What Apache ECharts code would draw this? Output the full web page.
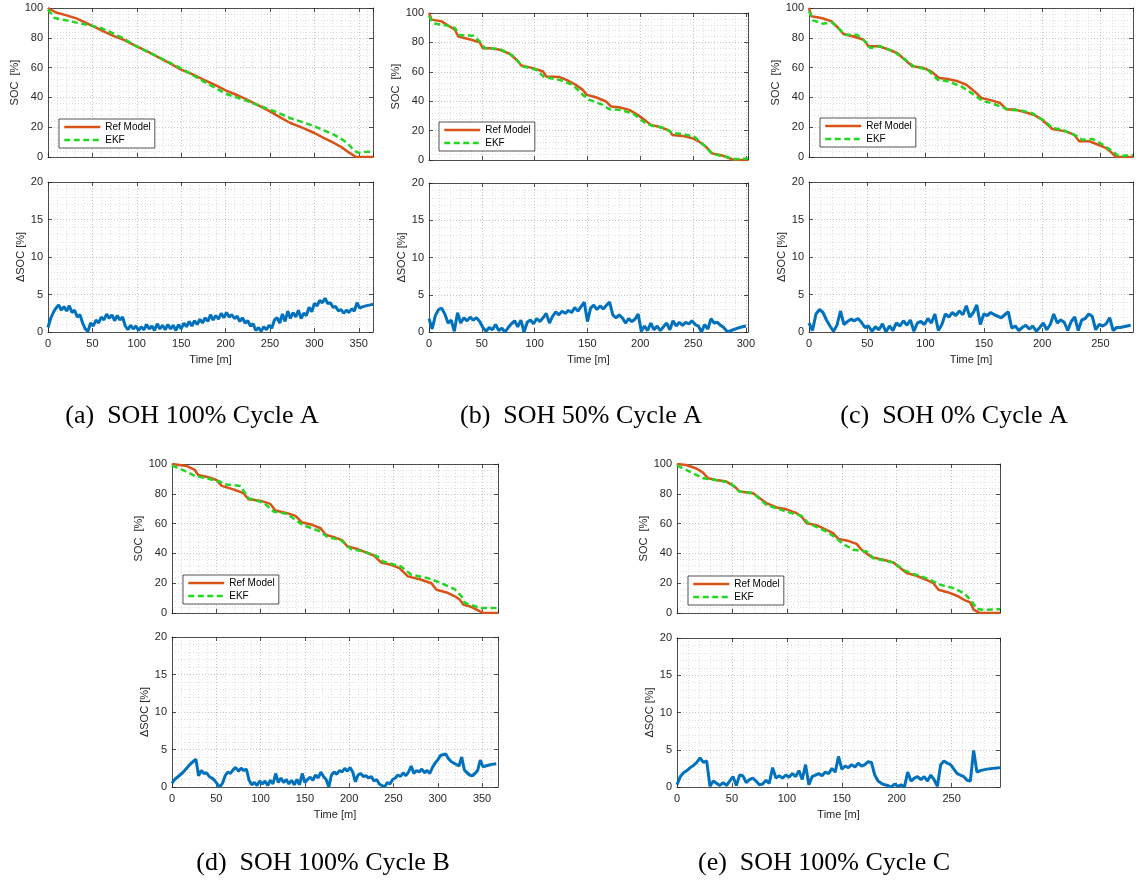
<!DOCTYPE html>
<html>
<head>
<meta charset="utf-8">
<script src="https://cdn.jsdelivr.net/npm/echarts@6/dist/echarts.min.js"></script>
<style>
  html, body { margin: 0; padding: 0; background: #ffffff; }
  #chart { width: 1136px; height: 888px; }
</style>
</head>
<body>
<div id="chart"></div>
<script>
// ---- Data -------------------------------------------------------------

// Length of each drive cycle [min]
const cycleEndA = 366;
const cycleEndB = 302;
const cycleEndC = 278;
const cycleEndD = 368;
const cycleEndE = 294;

// SOC of the reference model, [time (min), SOC (%)]
const refA = [[0,100],[9,97],[20,95.2],[32,93],[50,88],[62,84.5],[73,81.5],[86,78.5],[100,74.3],[113,70.5],[126,66.4],[138,62.6],[150,58.6],[163,55.4],[175,51.9],[188,48.4],[200,44.7],[212,41.8],[224,38.5],[237,34.6],[250,30.6],[262,26.4],[273,22.8],[287,19.6],[300,16.1],[311,12.6],[322,9.4],[330,6.8],[337,3.8],[347,0],[366,0]];
// SOC estimated by the EKF
const ekfA = [[0,99],[7.5,93.3],[20,91.8],[32,90.2],[50,88],[60,86.4],[70,84],[85,79.6],[100,74],[125,67],[150,59.5],[175,50.8],[200,42.5],[225,37.4],[250,31.8],[262,29],[273,26],[287,23.4],[300,20.6],[311,17.8],[322,15],[330,12.2],[337,9.4],[345,4.2],[350,2.8],[356,3.4],[366,3.5]];

const refB = [[0,100],[2.5,95.5],[12,94.3],[17,92],[24.5,88.6],[27.7,84],[29,83],[40,81.8],[48,80],[51,76],[57.5,76],[67,75],[76,72.3],[83,68.2],[87.4,64.3],[98.4,62.5],[108,60.2],[111,56.8],[123.6,56.4],[131.4,54.1],[139,51.1],[145.6,47.7],[149.4,44.3],[158,42.7],[167.6,39.8],[172.3,36.4],[180,35.9],[189.6,34.1],[197.5,30.7],[205,26.8],[210,23.9],[219.5,22.3],[227.4,20],[230.5,17],[240,16.4],[249.4,14.8],[255.7,12.5],[262,9.1],[268,4.5],[277.7,3],[287,0.5],[290,0],[302,0]];
const ekfB = [[0,98],[4,93],[17,91.4],[24.5,89.8],[29,85],[42,84.5],[48,80.7],[53,76],[67,75.5],[78,71.6],[89,63.6],[101.6,61.4],[109,56.4],[123.6,54.5],[136,51.1],[145.6,44.3],[152,40.9],[164.5,37.5],[170.8,34.5],[180,34.1],[192.8,31.8],[205,25],[211.6,23.2],[224,21.6],[230.5,18.2],[240,17.7],[251,15.9],[262,9.1],[268,4.1],[281,2.3],[290,0.5],[302,1]];

const refC = [[0,100],[2,94.4],[10.7,93.3],[19.4,91],[25,86.6],[29.5,82.6],[39.6,80.5],[46.8,78.7],[51,74.3],[60,74.3],[67,72.5],[75.7,69.8],[81.5,65.8],[88.7,60.9],[98.8,59.7],[104.6,57.5],[111.8,53],[119,52.3],[127.7,50.8],[135,48.5],[142,44],[148,39.6],[156.6,38],[164,36.2],[169.7,31.8],[177,31.8],[185.5,30],[192.8,28.4],[200,25],[208.7,18.8],[220.2,17.2],[227.5,15],[231.8,10.5],[240.5,10.5],[246,8.9],[255,6],[260,2.7],[263.6,0],[278,0]];
const ekfC = [[0,98],[3.5,91.7],[12,89.5],[19.4,90.4],[26.6,85.5],[31,82],[41,82],[46.8,78.7],[52.6,73.2],[61,74.3],[72.8,70.9],[84.4,64.2],[90,60.9],[101.7,58.6],[110.4,51.9],[119,50.8],[130.6,47.4],[139.3,43],[149.4,37.4],[156.6,36.2],[171,31.8],[182.7,31.1],[191.3,29.5],[201.4,24.6],[208.7,19.5],[217.3,18.3],[229,14.3],[234.7,11.6],[243.4,12.1],[252,8.3],[260.7,3.8],[266,0.4],[272,1],[278,1.2]];

const refD = [[0,100],[16.3,98.7],[25.8,96],[29.5,92.6],[39,91.5],[50.4,89.3],[56,85.3],[69.3,83],[80.7,80.4],[86.4,76.3],[99.6,75.4],[111,73.2],[116.7,68.8],[130,67],[139.4,65.2],[147,60.7],[158.3,59.2],[167.8,56.9],[173.5,52.5],[183,50.9],[192.4,48.7],[198,44.6],[209.5,42.9],[220.8,40.2],[228.4,38.4],[236,33.9],[247.3,32.4],[256.8,30.1],[266.3,24.6],[281.4,22.3],[292.8,20],[298.5,15.6],[310,13.8],[319.3,11.2],[325,8.9],[328.8,5.6],[338.3,4],[347.7,1.1],[351.5,0],[368,0]];
const ekfD = [[0,99],[16.3,94.9],[25.8,92],[39,90.4],[54,88.2],[58,86.4],[77,85.3],[86.4,77],[103.4,74.1],[114.8,68],[130,66.5],[147,59.2],[167.8,54.7],[175.4,50.9],[190.5,49.1],[201.9,42.9],[217,41.3],[232,37.9],[237.9,34.6],[258.7,31.2],[270,25.7],[289,23.4],[304,20],[319,16],[326.9,11.2],[330.7,6.7],[342,4.5],[349.6,3.3],[368,3.3]];

const refE = [[0,100],[8.5,99.3],[17.6,97],[23.7,94.2],[28.3,90.4],[35.9,89.3],[45,88.2],[52.6,84.8],[57,81.5],[69.3,80.4],[75.4,77],[81.5,73.7],[90.6,70.8],[99.7,69.6],[108.8,67],[113.4,64.7],[118,60.3],[127,58.9],[136,55.8],[142,53.6],[147,49.6],[154.4,48.7],[163.5,46.4],[168,42.4],[177.2,37.5],[187.8,35.7],[197,33.9],[201.5,31.2],[209,26.8],[218,25],[227,22.3],[233.4,20],[238,15.6],[247,13.8],[254.7,11.6],[262.3,8.5],[266.9,7.1],[270,2.2],[274.5,0.4],[277.5,0],[294,0]];
const ekfE = [[0,99],[14.6,93.8],[23.7,90.4],[39,88.8],[48,87.5],[57,81.5],[69.3,80.4],[81.5,72.5],[99.7,68],[113.4,65.2],[119.5,60.3],[136,54.7],[145.3,50.2],[150,46.9],[160.5,42.4],[172.6,41.3],[178.7,36.8],[197,33.9],[206,29],[215,26.3],[227,23.4],[239.5,19],[251.7,16.7],[260.8,13.4],[268.4,7.8],[273,2.7],[279,2.2],[294,2.5]];

// Absolute SOC error [%], sampled every 3 min from t = 0
const errStep = 3;
const errA = [
  0.6, 1.8, 2.6, 3.2, 3.6, 2.9, 3.4, 2.8, 3.5, 2.6,
  2.9, 2.0, 2.3, 1.2, 0.4, 0.1, 1.2, 0.8, 1.6, 1.2,
  2.0, 1.6, 2.4, 1.8, 2.3, 1.5, 2.2, 1.6, 2.0, 0.8,
  0.3, 0.9, 0.4, 0.8, 0.2, 0.7, 0.3, 1.0, 0.4, 0.8,
  0.2, 1.1, 0.4, 0.9, 0.3, 1.0, 0.4, 0.9, 0.2, 1.0,
  0.4, 1.2, 0.7, 1.4, 0.8, 1.5, 1.0, 1.7, 1.2, 1.9,
  1.4, 2.3, 1.6, 2.2, 1.7, 2.5, 1.9, 2.6, 2.0, 2.3,
  1.8, 2.1, 1.4, 1.9, 1.2, 1.5, 0.8, 1.1, 0.2, 0.6,
  0.1, 0.7, 0.3, 0.9, 0.5, 1.6, 1.9, 1.2, 2.4, 1.4,
  2.8, 1.8, 2.6, 2.0, 2.9, 1.8, 2.5, 2.2, 3.3, 2.7,
  3.8, 3.5, 4.2, 3.9, 4.5, 3.8, 3.9, 3.3, 3.4, 2.8,
  3.0, 2.5, 2.9, 2.6, 3.1, 2.8, 3.9, 3.2, 3.35, 3.45,
  3.55, 3.62, 3.7
];
const errB = [
  1.8, 0.4, 2.2, 3.0, 3.2, 2.4, 1.2, 1.6, 0.1, 2.6,
  1.2, 1.9, 1.5, 2.0, 1.6, 1.9, 1.4, 0.6, 0.1, 0.6,
  0.3, 1.0, 0.2, 0.5, 0.0, 0.6, 1.1, 1.5, 0.7, 1.6,
  0.0, 1.3, 1.6, 1.1, 1.8, 1.4, 1.9, 2.5, 1.2, 2.1,
  2.7, 2.3, 2.8, 2.5, 2.9, 2.6, 3.3, 2.8, 3.4, 4.0,
  1.4, 3.2, 3.6, 3.0, 3.5, 3.1, 3.6, 4.0, 2.3, 1.9,
  2.3, 1.9, 1.2, 1.8, 1.4, 1.7, 2.4, 0.1, 0.8, 0.2,
  1.2, 0.3, 0.8, 0.2, 0.7, 1.2, 0.3, 1.5, 0.8, 1.3,
  0.9, 1.3, 1.1, 1.5, 1.0, 0.8, 0.0, 1.0, 0.4, 1.8,
  1.2, 1.3, 0.9, 0.6, 0.1, 0.15, 0.3, 0.45, 0.6, 0.7,
  0.8
];
const errC = [
  1.2, 0.2, 2.4, 3.0, 2.6, 1.6, 0.8, 0.1, 0.9, 2.8,
  1.0, 1.4, 1.7, 1.5, 1.8, 1.3, 0.6, 0.8, 0.1, 0.7,
  0.3, 1.1, 0.0, 0.8, 0.2, 1.2, 0.8, 1.5, 0.9, 1.6,
  0.1, 1.2, 1.4, 1.0, 1.8, 1.2, 2.4, 0.2, 1.0, 2.4,
  2.0, 2.6, 2.2, 2.8, 2.3, 3.5, 2.0, 2.6, 3.6, 1.0,
  2.4, 2.2, 2.6, 2.3, 2.1, 1.9, 2.3, 2.7, 0.5, 0.8,
  0.2, 0.6, 0.9, 0.4, 0.8, 0.1, 0.6, 1.2, 0.3, 1.0,
  2.4, 1.2, 1.6, 1.3, 0.2, 1.4, 2.0, 0.2, 1.6, 1.8,
  2.4, 2.1, 0.3, 1.0, 0.8, 1.1, 1.9, 0.2, 0.6, 0.6,
  0.7, 0.8, 0.9
];
const errD = [
  0.5, 1.0, 1.3, 1.6, 1.9, 2.3, 2.7, 3.1, 3.4, 3.7,
  1.5, 2.2, 1.8, 1.9, 1.4, 1.2, 0.9, 0.4, 0.0, 0.5,
  1.5, 2.0, 1.8, 2.3, 2.6, 2.1, 2.5, 2.2, 2.4, 0.9,
  0.3, 0.6, 0.2, 0.8, 0.4, 0.8, 0.2, 0.9, 0.4, 1.8,
  0.6, 1.2, 0.6, 1.0, 0.4, 0.9, 0.3, 1.0, 0.3, 1.8,
  0.6, 1.0, 1.3, 0.9, 1.6, 1.2, 2.0, 1.4, 1.0, 0.0,
  1.6, 2.0, 1.7, 2.2, 2.0, 2.5, 2.1, 2.6, 2.0, 0.7,
  1.6, 1.8, 1.4, 1.5, 1.2, 1.4, 0.8, 1.0, 0.4, 0.2,
  0.0, 0.6, 0.4, 1.0, 1.2, 1.6, 1.4, 1.9, 1.5, 2.0,
  2.8, 1.8, 2.2, 2.0, 2.4, 1.9, 2.2, 1.8, 2.6, 3.2,
  3.6, 4.2, 4.3, 4.4, 3.8, 3.4, 3.2, 3.0, 2.8, 4.0,
  2.3, 1.9, 1.6, 1.5, 1.8, 2.2, 3.6, 2.7, 2.8, 2.9,
  3.0, 3.05, 3.1
];
const errE = [
  0.3, 1.4, 1.9, 2.2, 2.6, 2.9, 3.3, 3.9, 3.3, 3.5,
  0.1, 0.8, 0.5, 0.2, 0.6, 0.2, 0.8, 1.4, 0.2, 1.6,
  1.5, 0.6, 1.0, 1.2, 0.8, 0.3, 0.4, 0.9, 0.5, 2.6,
  1.2, 1.5, 1.2, 1.6, 1.3, 1.8, 1.4, 2.2, 1.0, 3.0,
  0.3, 1.4, 1.6, 1.8, 1.5, 2.0, 1.8, 2.5, 2.0, 4.1,
  2.4, 2.8, 2.6, 3.0, 2.7, 3.2, 2.8, 3.0, 3.4, 3.3,
  1.6, 0.8, 0.5, 0.3, 0.2, 0.0, 0.4, 0.1, 0.3, 0.0,
  2.0, 0.8, 1.2, 1.4, 1.0, 1.4, 0.8, 1.6, 1.0, 0.1,
  3.0, 3.5, 3.2, 3.0, 2.4, 1.8, 1.6, 1.4, 0.9, 0.8,
  4.9, 2.0, 2.2, 2.3, 2.4, 2.45, 2.5, 2.55, 2.6
];

// Sub-figure captions
const captions = [
  '(a)  SOH 100% Cycle A',
  '(b)  SOH 50% Cycle A',
  '(c)  SOH 0% Cycle A',
  '(d)  SOH 100% Cycle B',
  '(e)  SOH 100% Cycle C'
];
const legendNames = ['Ref Model', 'EKF'];

// ---- Layout ---------------------------------------------------------------

const panels = [
  { end: cycleEndA, ref: refA, ekf: ekfA, err: errA,
    soc: { left: 48, top: 8, width: 325, height: 149 },
    dev: { left: 48, top: 182, width: 325, height: 150 },
    legend: { left: 59, top: 119 }, cap: { x: 192, y: 416 } },
  { end: cycleEndB, ref: refB, ekf: ekfB, err: errB,
    soc: { left: 429, top: 13, width: 319, height: 147 },
    dev: { left: 429, top: 183, width: 319, height: 149 },
    legend: { left: 439, top: 122 }, cap: { x: 581, y: 416 } },
  { end: cycleEndC, ref: refC, ekf: ekfC, err: errC,
    soc: { left: 809, top: 8, width: 324, height: 149 },
    dev: { left: 809, top: 182, width: 324, height: 150 },
    legend: { left: 820, top: 118 }, cap: { x: 954, y: 416 } },
  { end: cycleEndD, ref: refD, ekf: ekfD, err: errD,
    soc: { left: 172, top: 464, width: 326, height: 149 },
    dev: { left: 172, top: 637, width: 326, height: 150 },
    legend: { left: 183, top: 575 }, cap: { x: 323, y: 863 } },
  { end: cycleEndE, ref: refE, ekf: ekfE, err: errE,
    soc: { left: 677, top: 464, width: 323, height: 149 },
    dev: { left: 677, top: 638, width: 323, height: 149 },
    legend: { left: 688, top: 576 }, cap: { x: 824, y: 863 } }
];

// ---- Styling helpers ---------------------------------------------------------

const INK = '#262626';
const FONT = '"Liberation Sans", Arial, sans-serif';
const frameLine = { show: true, onZero: false, lineStyle: { color: INK, width: 0.8 } };
const innerTick = { show: true, inside: true, length: 4, lineStyle: { color: INK, width: 0.8 } };
const majorGrid = { show: true, lineStyle: { color: '#b4b4b4', type: [1, 2], width: 0.8 } };
const minorGrid = { show: true, lineStyle: { color: '#d6d6d6', type: [1, 2], width: 0.8 } };

function timeAxes(gridIndex, end, labelled) {
  const bottom = {
    type: 'value', gridIndex, position: 'bottom', min: 0, max: end, interval: 50,
    axisLine: frameLine, axisTick: innerTick,
    axisLabel: { show: labelled, fontSize: 11, color: INK, fontFamily: FONT, margin: 6, showMaxLabel: false },
    splitLine: majorGrid,
    minorTick: { show: false, splitNumber: 5 },
    minorSplitLine: minorGrid,
    name: labelled ? 'Time [m]' : '', nameLocation: 'middle', nameGap: 22,
    nameTextStyle: { fontSize: 11, color: INK, fontFamily: FONT }
  };
  const top = {
    type: 'value', gridIndex, position: 'top', min: 0, max: end, interval: 50,
    axisLine: frameLine, axisTick: innerTick,
    axisLabel: { show: false }, splitLine: { show: false }
  };
  return [bottom, top];
}

function valueAxes(gridIndex, max, interval, name, nameGap) {
  const left = {
    type: 'value', gridIndex, position: 'left', min: 0, max, interval,
    axisLine: frameLine, axisTick: innerTick,
    axisLabel: { fontSize: 11, color: INK, fontFamily: FONT, margin: 5 },
    splitLine: majorGrid,
    minorTick: { show: false, splitNumber: 5 },
    minorSplitLine: minorGrid,
    name, nameLocation: 'middle', nameGap,
    nameTextStyle: { fontSize: 11, color: INK, fontFamily: FONT }
  };
  const right = {
    type: 'value', gridIndex, position: 'right', min: 0, max, interval,
    axisLine: frameLine, axisTick: innerTick,
    axisLabel: { show: false }, splitLine: { show: false }
  };
  return [left, right];
}

// ---- Build option --------------------------------------------------------------

const grid = [], xAxis = [], yAxis = [], series = [], legend = [], graphic = [];

panels.forEach((p, k) => {
  const gSoc = grid.length;
  grid.push(Object.assign({ outerBoundsMode: 'none', containLabel: false }, p.soc));
  const gDev = grid.length;
  grid.push(Object.assign({ outerBoundsMode: 'none', containLabel: false }, p.dev));

  const xSoc = xAxis.length;
  xAxis.push(...timeAxes(gSoc, p.end, false));
  const xDev = xAxis.length;
  xAxis.push(...timeAxes(gDev, p.end, true));

  const ySoc = yAxis.length;
  yAxis.push(...valueAxes(gSoc, 100, 20, 'SOC  [%]', 26));
  const yDev = yAxis.length;
  yAxis.push(...valueAxes(gDev, 20, 5, 'ΔSOC [%]', 18));

  series.push({
    name: legendNames[0], type: 'line', xAxisIndex: xSoc, yAxisIndex: ySoc,
    data: p.ref, symbol: 'none', showSymbol: false, z: 3,
    lineStyle: { color: '#D95319', width: 2.5 }, itemStyle: { color: '#D95319' }
  });
  series.push({
    name: legendNames[1], type: 'line', xAxisIndex: xSoc, yAxisIndex: ySoc,
    data: p.ekf, symbol: 'none', showSymbol: false, z: 4,
    lineStyle: { color: '#22D622', width: 2.5, type: [6, 3.5] }, itemStyle: { color: '#22D622' }
  });
  series.push({
    name: 'ΔSOC', type: 'line', xAxisIndex: xDev, yAxisIndex: yDev,
    data: p.err.map((v, i) => [i * errStep, v]), symbol: 'none', showSymbol: false, z: 3,
    lineStyle: { color: '#0072BD', width: 3 }, itemStyle: { color: '#0072BD' }
  });

  legend.push({
    data: legendNames, left: p.legend.left, top: p.legend.top, orient: 'vertical',
    itemWidth: 36, itemHeight: 11, itemGap: 3, padding: [3, 4, 3, 4],
    borderColor: INK, borderWidth: 0.8, borderRadius: 0, backgroundColor: '#ffffff',
    selectedMode: false, z: 10,
    itemStyle: { opacity: 0 },
    lineStyle: { width: 2.5 },
    textStyle: { fontSize: 10, color: '#000000', fontFamily: FONT }
  });

  graphic.push({
    type: 'text', x: p.cap.x, y: p.cap.y, z: 10,
    style: {
      text: captions[k], fill: '#000000',
      font: '26px "Liberation Serif", "Times New Roman", serif',
      textAlign: 'center', textVerticalAlign: 'middle'
    }
  });
});

const chart = echarts.init(document.getElementById('chart'), null, { renderer: 'canvas' });
chart.setOption({
  backgroundColor: '#ffffff',
  animation: false,
  grid, xAxis, yAxis, series, legend, graphic
});
</script>
</body>
</html>
